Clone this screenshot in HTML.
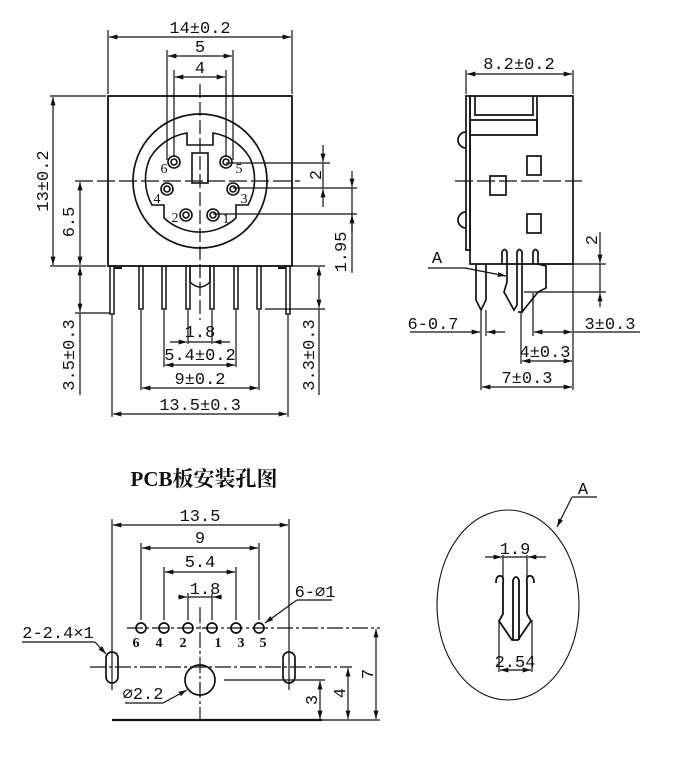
<!DOCTYPE html>
<html><head><meta charset="utf-8"><style>
html,body{margin:0;padding:0;background:#fff}
svg{display:block}
text{font-family:"Liberation Serif","Noto Serif CJK SC",serif;fill:#111}
.t{font-family:"Liberation Mono",monospace;font-size:17px}
.p{font-size:14px}
.title{font-size:21px;font-weight:bold}
</style></head><body>
<svg width="689" height="779" viewBox="0 0 689 779" xmlns="http://www.w3.org/2000/svg">
<defs>
<marker id="a" viewBox="0 0 10 6" refX="10" refY="3" markerWidth="10" markerHeight="5" orient="auto-start-reverse" markerUnits="userSpaceOnUse"><path d="M0,0 L10,3 L0,6 z" fill="#111"/></marker>
</defs>
<g stroke="#111" fill="none" stroke-width="1.2">
<rect x="108" y="96" width="184" height="170" stroke-width="1.8"/>
<line x1="108" y1="30" x2="108" y2="94"/><line x1="292" y1="30" x2="292" y2="94"/>
<line x1="109" y1="37" x2="291" y2="37" marker-start="url(#a)" marker-end="url(#a)"/>
<line x1="167" y1="50" x2="167" y2="160"/><line x1="233" y1="50" x2="233" y2="160"/>
<line x1="168" y1="56" x2="232" y2="56" marker-start="url(#a)" marker-end="url(#a)"/>
<line x1="174" y1="70" x2="174" y2="157"/><line x1="226" y1="70" x2="226" y2="157"/>
<line x1="175" y1="77" x2="225" y2="77" marker-start="url(#a)" marker-end="url(#a)"/>
<circle cx="200" cy="181" r="67" stroke-width="1.7"/>
<path d="M187,133 L187,145 L213,145 L213,133 A53,53 0 0 1 250,158 A53,53 0 0 1 248,205 L236,205 L236,218 A53,53 0 0 1 164,218 L164,205 L152,205 A53,53 0 0 1 150,158 A53,53 0 0 1 187,133 Z" stroke-width="1.6"/>
<g stroke-width="1.6">
<circle cx="174" cy="162" r="6"/><circle cx="174" cy="162" r="3"/>
<circle cx="226" cy="162" r="6"/><circle cx="226" cy="162" r="3"/>
<circle cx="167" cy="189" r="6"/><circle cx="167" cy="189" r="3"/>
<circle cx="233" cy="189" r="6"/><circle cx="233" cy="189" r="3"/>
<circle cx="186" cy="215" r="6"/><circle cx="186" cy="215" r="3"/>
<circle cx="213" cy="215" r="6"/><circle cx="213" cy="215" r="3"/>
<rect x="192" y="153" width="16" height="30"/>
</g>
<line x1="75" y1="181" x2="300" y2="181" stroke-dasharray="18,4"/>
<line x1="200" y1="84" x2="200" y2="320" stroke-dasharray="14,4"/>
<line x1="226" y1="163" x2="330" y2="163"/><line x1="233" y1="188" x2="357" y2="188"/><line x1="213" y1="214" x2="357" y2="214"/>
<line x1="323" y1="145" x2="323" y2="162" marker-end="url(#a)"/><line x1="323" y1="207" x2="323" y2="189" marker-end="url(#a)"/>
<line x1="323" y1="163" x2="323" y2="188"/>
<line x1="352" y1="171" x2="352" y2="187" marker-end="url(#a)"/><line x1="352" y1="232" x2="352" y2="215" marker-end="url(#a)"/>
<line x1="352" y1="188" x2="352" y2="273"/>
<line x1="50" y1="96" x2="106" y2="96"/><line x1="50" y1="266" x2="106" y2="266"/>
<line x1="53" y1="97" x2="53" y2="265" marker-start="url(#a)" marker-end="url(#a)"/>
<line x1="80" y1="182" x2="80" y2="265" marker-start="url(#a)" marker-end="url(#a)"/>
<line x1="80" y1="267" x2="80" y2="312" marker-start="url(#a)" marker-end="url(#a)"/>
<line x1="75" y1="313" x2="110" y2="313"/>
<line x1="80" y1="313" x2="80" y2="395"/>
<g stroke-width="1.5">
<rect x="110" y="266" width="4" height="48"/><rect x="286" y="266" width="4" height="48"/>
<rect x="139" y="266" width="4" height="43"/><rect x="162" y="266" width="4" height="43"/>
<rect x="186" y="266" width="4" height="43"/><rect x="210" y="266" width="4" height="43"/>
<rect x="234" y="266" width="4" height="43"/><rect x="257" y="266" width="4" height="43"/>
<path d="M190,266 L190,282 Q200,292 210,282 L210,266"/>
</g>
<line x1="114" y1="268" x2="122" y2="268" stroke-width="2"/><line x1="278" y1="268" x2="286" y2="268" stroke-width="2"/>
<line x1="292" y1="266" x2="325" y2="266"/><line x1="265" y1="309" x2="325" y2="309"/>
<line x1="319" y1="267" x2="319" y2="308" marker-start="url(#a)" marker-end="url(#a)"/>
<line x1="319" y1="309" x2="319" y2="395"/>
<line x1="188" y1="310" x2="188" y2="344"/><line x1="212" y1="310" x2="212" y2="344"/>
<line x1="170" y1="342" x2="187" y2="342" marker-end="url(#a)"/><line x1="230" y1="342" x2="213" y2="342" marker-end="url(#a)"/>
<line x1="188" y1="342" x2="212" y2="342"/>
<line x1="164" y1="310" x2="164" y2="367"/><line x1="236" y1="310" x2="236" y2="367"/>
<line x1="165" y1="365" x2="235" y2="365" marker-start="url(#a)" marker-end="url(#a)"/>
<line x1="141" y1="310" x2="141" y2="390"/><line x1="259" y1="310" x2="259" y2="390"/>
<line x1="142" y1="388" x2="258" y2="388" marker-start="url(#a)" marker-end="url(#a)"/>
<line x1="112" y1="315" x2="112" y2="417"/><line x1="288" y1="315" x2="288" y2="417"/>
<line x1="113" y1="414" x2="287" y2="414" marker-start="url(#a)" marker-end="url(#a)"/>

<line x1="466" y1="70" x2="466" y2="94"/><line x1="573" y1="70" x2="573" y2="94"/>
<line x1="467" y1="74" x2="572" y2="74" marker-start="url(#a)" marker-end="url(#a)"/>
<g stroke-width="1.7">
<path d="M470,96 L573,96 L573,264 L470,264 Z"/>
<path d="M466,96 L470,96 L470,250 L466,250 Z"/>
<path d="M475,96 L475,115 L533,115 L533,96"/>
<path d="M470,120 L537,120 L537,135 L470,135"/>
<line x1="537" y1="96" x2="537" y2="135"/>
<path d="M466,132 A8,8 0 0 0 466,148"/>
<path d="M466,212 A8,8 0 0 0 466,228"/>
<rect x="527" y="156" width="14" height="19"/>
<rect x="490" y="176" width="16" height="19"/>
<rect x="527" y="214" width="14" height="19"/>
<path d="M476,264 L476,300 L481,310 L486,300 L486,264"/>
<path d="M502,264 L502,252 Q504.5,247 507,252 L507,282 L504,292 L514,310 L517,305 L517,252 Q519.5,247 522,252 L522,312 L518,312"/>
<path d="M533,264 L533,252 Q535.5,247 538,252 L538,264 L546,266 L546,288 L538,292 L522,312"/>
</g>
<line x1="455" y1="181" x2="582" y2="181" stroke-dasharray="18,4"/>
<line x1="428" y1="268" x2="465" y2="268"/><line x1="465" y1="268" x2="506" y2="276" marker-end="url(#a)"/>
<line x1="546" y1="264" x2="606" y2="264"/><line x1="524" y1="292" x2="606" y2="292"/>
<line x1="600" y1="232" x2="600" y2="263" marker-end="url(#a)"/><line x1="600" y1="307" x2="600" y2="293" marker-end="url(#a)"/>
<line x1="600" y1="264" x2="600" y2="292"/>
<line x1="481" y1="310" x2="481" y2="390"/><line x1="486" y1="310" x2="486" y2="336"/>
<line x1="410" y1="332" x2="480" y2="332" marker-end="url(#a)"/><line x1="505" y1="332" x2="487" y2="332" marker-end="url(#a)"/>
<line x1="533" y1="293" x2="533" y2="336"/>
<line x1="573" y1="264" x2="573" y2="390"/>
<line x1="534" y1="332" x2="572" y2="332" marker-start="url(#a)" marker-end="url(#a)"/>
<line x1="573" y1="332" x2="640" y2="332"/>
<line x1="521" y1="312" x2="521" y2="364"/>
<line x1="522" y1="361" x2="572" y2="361" marker-start="url(#a)" marker-end="url(#a)"/>
<line x1="482" y1="387" x2="572" y2="387" marker-start="url(#a)" marker-end="url(#a)"/>

<line x1="112" y1="519" x2="112" y2="690"/><line x1="289" y1="519" x2="289" y2="690"/>
<line x1="113" y1="525" x2="288" y2="525" marker-start="url(#a)" marker-end="url(#a)"/>
<line x1="141" y1="543" x2="141" y2="620"/><line x1="259" y1="543" x2="259" y2="620"/>
<line x1="142" y1="548" x2="258" y2="548" marker-start="url(#a)" marker-end="url(#a)"/>
<line x1="164" y1="567" x2="164" y2="620"/><line x1="236" y1="567" x2="236" y2="620"/>
<line x1="165" y1="572" x2="235" y2="572" marker-start="url(#a)" marker-end="url(#a)"/>
<line x1="188" y1="593" x2="188" y2="620"/><line x1="212" y1="593" x2="212" y2="620"/>
<line x1="178" y1="597" x2="187" y2="597" marker-end="url(#a)"/><line x1="222" y1="597" x2="213" y2="597" marker-end="url(#a)"/>
<line x1="188" y1="597" x2="212" y2="597"/>
<line x1="127" y1="628" x2="380" y2="628" stroke-dasharray="16,3,3,3"/>
<line x1="90" y1="667" x2="352" y2="667" stroke-dasharray="16,3,3,3"/>
<line x1="200" y1="607" x2="200" y2="720" stroke-dasharray="16,3,3,3"/>
<g stroke-width="1.7">
<circle cx="141" cy="628" r="5"/><circle cx="164" cy="628" r="5"/><circle cx="188" cy="628" r="5"/>
<circle cx="212" cy="628" r="5"/><circle cx="236" cy="628" r="5"/><circle cx="259" cy="628" r="5"/>
<rect x="106" y="652" width="12" height="31" rx="6"/><rect x="283" y="652" width="12" height="31" rx="6"/>
<circle cx="200" cy="680" r="15"/>
</g>
<line x1="224" y1="680" x2="325" y2="680"/>
<line x1="112" y1="720" x2="322" y2="720" stroke-width="2.2"/>
<line x1="322" y1="720" x2="380" y2="720"/>
<line x1="320" y1="681" x2="320" y2="719" marker-start="url(#a)" marker-end="url(#a)"/>
<line x1="348" y1="668" x2="348" y2="719" marker-start="url(#a)" marker-end="url(#a)"/>
<line x1="376" y1="629" x2="376" y2="719" marker-start="url(#a)" marker-end="url(#a)"/>
<line x1="297" y1="600" x2="332" y2="600"/><line x1="297" y1="600" x2="265" y2="623" marker-end="url(#a)"/>
<line x1="22" y1="642" x2="95" y2="642"/><line x1="95" y1="642" x2="106" y2="654" marker-end="url(#a)"/>
<line x1="125" y1="703" x2="163" y2="703"/><line x1="163" y1="703" x2="187" y2="690" marker-end="url(#a)"/>

<ellipse cx="508" cy="605" rx="71" ry="95" stroke-width="1.1"/>
<line x1="572" y1="497" x2="597" y2="497"/><line x1="572" y1="497" x2="557" y2="527" marker-end="url(#a)"/>
<line x1="503" y1="555" x2="503" y2="580"/><line x1="527" y1="555" x2="527" y2="580"/>
<line x1="485" y1="557" x2="502" y2="557" marker-end="url(#a)"/><line x1="546" y1="557" x2="528" y2="557" marker-end="url(#a)"/>
<line x1="503" y1="557" x2="527" y2="557"/>
<g stroke-width="1.8">
<path d="M496,583 Q496,575 501,576 Q504,577 503,583 L503,614 L499,621 L512,640 L515,640"/>
<path d="M513,640 L513,580 Q516,574 519,580 L519,640"/>
<path d="M534,583 Q534,575 529,576 Q526,577 527,583 L527,614 L531,621 L518,640 L515,640"/>
</g>
<line x1="499" y1="620" x2="499" y2="672"/><line x1="532" y1="620" x2="532" y2="672"/>
<line x1="500" y1="670" x2="531" y2="670" marker-start="url(#a)" marker-end="url(#a)"/>
</g>

<g>
<text class="t" x="200" y="33" text-anchor="middle">14±0.2</text>
<text class="t" x="200" y="52" text-anchor="middle">5</text>
<text class="t" x="200" y="73" text-anchor="middle">4</text>
<text class="p" x="164" y="173" text-anchor="middle">6</text>
<text class="p" x="239" y="173" text-anchor="middle">5</text>
<text class="p" x="157" y="203" text-anchor="middle">4</text>
<text class="p" x="244" y="203" text-anchor="middle">3</text>
<text class="p" x="175" y="222" text-anchor="middle">2</text>
<text class="p" x="226" y="223" text-anchor="middle">1</text>
<text class="t" transform="translate(48,181) rotate(-90)" text-anchor="middle">13±0.2</text>
<text class="t" transform="translate(74,222) rotate(-90)" text-anchor="middle">6.5</text>
<text class="t" transform="translate(74,355) rotate(-90)" text-anchor="middle">3.5±0.3</text>
<text class="t" transform="translate(314,355) rotate(-90)" text-anchor="middle">3.3±0.3</text>
<text class="t" transform="translate(321,175) rotate(-90)" text-anchor="middle">2</text>
<text class="t" transform="translate(346,252) rotate(-90)" text-anchor="middle">1.95</text>
<text class="t" x="200" y="337" text-anchor="middle">1.8</text>
<text class="t" x="200" y="360" text-anchor="middle">5.4±0.2</text>
<text class="t" x="200" y="384" text-anchor="middle">9±0.2</text>
<text class="t" x="200" y="410" text-anchor="middle">13.5±0.3</text>
<text class="t" x="519" y="69" text-anchor="middle">8.2±0.2</text>
<text class="t" x="437" y="263" text-anchor="middle">A</text>
<text class="t" transform="translate(597,240) rotate(-90)" text-anchor="middle">2</text>
<text class="t" x="433" y="329" text-anchor="middle">6-0.7</text>
<text class="t" x="610" y="329" text-anchor="middle">3±0.3</text>
<text class="t" x="545" y="357" text-anchor="middle">4±0.3</text>
<text class="t" x="527" y="383" text-anchor="middle">7±0.3</text>
<text class="title" x="204" y="486" text-anchor="middle">PCB板安装孔图</text>
<text class="t" x="200" y="521" text-anchor="middle">13.5</text>
<text class="t" x="200" y="543" text-anchor="middle">9</text>
<text class="t" x="200" y="567" text-anchor="middle">5.4</text>
<text class="t" x="205" y="594" text-anchor="middle">1.8</text>
<g class="p" style="font-weight:bold">
<text x="136" y="647" text-anchor="middle">6</text><text x="159" y="647" text-anchor="middle">4</text>
<text x="183" y="647" text-anchor="middle">2</text><text x="218" y="647" text-anchor="middle">1</text>
<text x="241" y="647" text-anchor="middle">3</text><text x="263" y="647" text-anchor="middle">5</text>
</g>
<text class="t" x="315" y="597" text-anchor="middle">6-∅1</text>
<text class="t" x="58" y="638" text-anchor="middle">2-2.4×1</text>
<text class="t" x="143" y="699" text-anchor="middle">∅2.2</text>
<text class="t" transform="translate(317,700) rotate(-90)" text-anchor="middle">3</text>
<text class="t" transform="translate(345,693) rotate(-90)" text-anchor="middle">4</text>
<text class="t" transform="translate(373,674) rotate(-90)" text-anchor="middle">7</text>
<text class="t" x="583" y="494" text-anchor="middle">A</text>
<text class="t" x="515" y="554" text-anchor="middle">1.9</text>
<text class="t" x="515" y="667" text-anchor="middle">2.54</text>
</g>
</svg>
</body></html>
